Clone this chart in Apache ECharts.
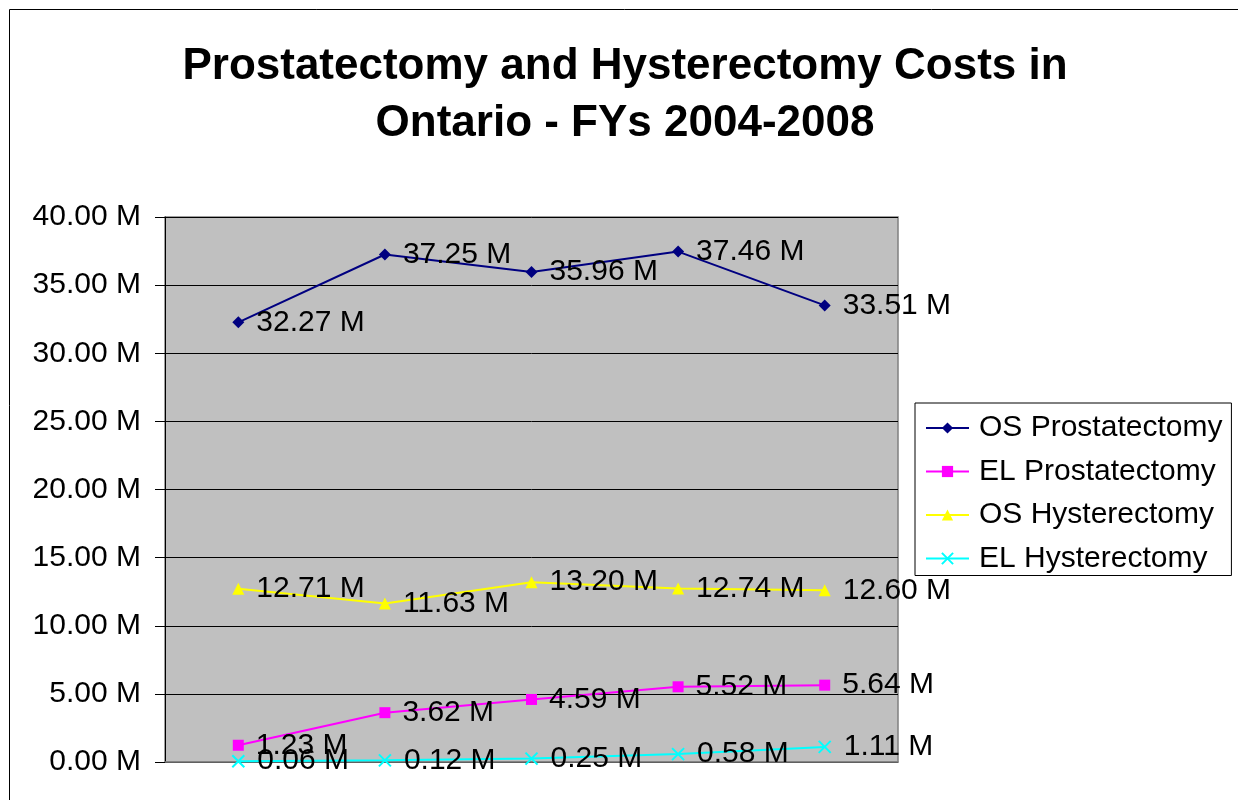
<!DOCTYPE html>
<html>
<head>
<meta charset="utf-8">
<title>Prostatectomy and Hysterectomy Costs in Ontario</title>
<script src="https://cdn.jsdelivr.net/npm/echarts@6/dist/echarts.min.js"></script>
<style>
  html, body { margin: 0; padding: 0; background: #fff; }
  #chart { width: 1238px; height: 800px; }
</style>
</head>
<body>
<div id="chart"></div>
<script>
// Fiscal years (category axis)
const years = ['2004', '2005', '2006', '2007', '2008'];

// Costs in millions of dollars
const osProstatectomy = [32.27, 37.25, 35.96, 37.46, 33.51];
const elProstatectomy = [1.23, 3.62, 4.59, 5.52, 5.64];
const osHysterectomy  = [12.71, 11.63, 13.20, 12.74, 12.60];
const elHysterectomy  = [0.06, 0.12, 0.25, 0.58, 1.11];

const seriesNames = ['OS Prostatectomy', 'EL Prostatectomy', 'OS Hysterectomy', 'EL Hysterectomy'];

const FONT = '"Liberation Sans", Arial, sans-serif';
const fmtM = v => v.toFixed(2) + ' M';

function lineSeries(name, data, color, symbol, symbolSize, extraItemStyle) {
  return {
    name: name,
    type: 'line',
    data: data,
    symbol: symbol,
    symbolSize: symbolSize,
    showAllSymbol: true,
    lineStyle: { color: color, width: 2 },
    itemStyle: Object.assign({ color: color }, extraItemStyle || {}),
    emphasis: { disabled: true },
    label: {
      show: true,
      position: 'right',
      distance: 12,
      formatter: p => fmtM(p.value),
      color: '#000',
      fontFamily: FONT,
      fontSize: 30
    },
    z: 3
  };
}

const chart = echarts.init(document.getElementById('chart'), null, { renderer: 'canvas' });

chart.setOption({
  animation: false,
  backgroundColor: '#fff',
  graphic: [{
    type: 'rect',
    shape: { x: 9.5, y: 9.5, width: 1300, height: 900 },
    style: { fill: 'none', stroke: '#000', lineWidth: 1 },
    silent: true
  }],
  title: {
    text: 'Prostatectomy and Hysterectomy Costs in\nOntario - FYs 2004-2008',
    left: 620,
    top: 33,
    textAlign: 'center',
    textStyle: {
      fontFamily: FONT,
      fontSize: 44,
      fontWeight: 'bold',
      lineHeight: 57,
      color: '#000'
    }
  },
  legend: {
    orient: 'vertical',
    left: 915,
    top: 403,
    data: seriesNames,
    backgroundColor: '#fff',
    borderColor: '#000',
    borderWidth: 1,
    padding: [10, 9, 2, 10],
    itemWidth: 43,
    itemHeight: 14,
    itemGap: 13.5,
    selectedMode: false,
    textStyle: {
      fontFamily: FONT,
      fontSize: 30,
      color: '#000',
      padding: [0, 0, 0, 5]
    }
  },
  grid: {
    left: 165,
    top: 217,
    right: 340,
    bottom: 38,
    show: true,
    backgroundColor: '#C0C0C0',
    borderColor: '#808080',
    borderWidth: 1.5
  },
  xAxis: {
    type: 'category',
    data: years,
    boundaryGap: true,
    axisLine: { show: true, lineStyle: { color: '#808080', width: 1.5 } },
    axisTick: { show: false },
    axisLabel: { show: false },
    splitLine: { show: false }
  },
  yAxis: {
    type: 'value',
    min: 0,
    max: 40,
    interval: 5,
    axisLine: { show: true, lineStyle: { color: '#000', width: 1 } },
    axisTick: { show: true, length: 10, lineStyle: { color: '#000' } },
    axisLabel: {
      formatter: v => fmtM(v),
      margin: 24,
      color: '#000',
      fontFamily: FONT,
      fontSize: 30
    },
    splitLine: { show: true, lineStyle: { color: '#000', width: 1 } }
  },
  series: [
    lineSeries(seriesNames[0], osProstatectomy, '#000080', 'diamond', 12),
    lineSeries(seriesNames[1], elProstatectomy, '#FF00FF', 'rect', 11),
    lineSeries(seriesNames[2], osHysterectomy, '#FFFF00', 'triangle', 12),
    lineSeries(seriesNames[3], elHysterectomy, '#00FFFF',
      'path://M0,0L10,10M10,0L0,10', 12,
      { borderColor: '#00FFFF', borderWidth: 2 })
  ]
});
</script>
</body>
</html>
